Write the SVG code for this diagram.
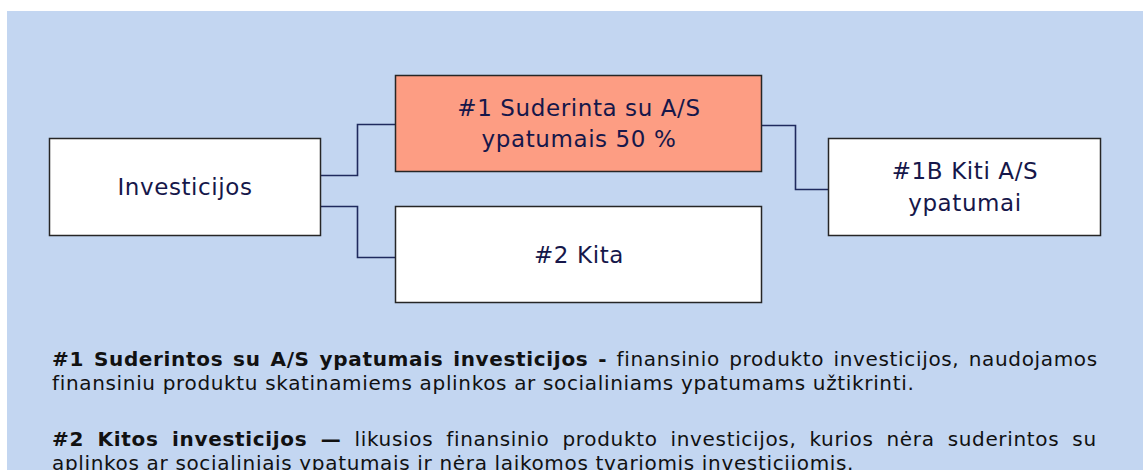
<svg xmlns="http://www.w3.org/2000/svg" width="1146" height="470" viewBox="0 0 1146 470">
<style>
.box{stroke:#262626;stroke-width:1.5}
.lbl{font-family:"DejaVu Sans",Verdana,sans-serif;font-size:23px;letter-spacing:0.6px;fill:#16174a;text-anchor:middle}
.conn{fill:none;stroke:#1f2a5e;stroke-width:1.6}
.desc{font-family:"DejaVu Sans",Verdana,sans-serif;font-size:20px;letter-spacing:0.66px;fill:#111}
.b{font-weight:bold}
</style>
<rect x="7" y="11" width="1136" height="459" fill="#c3d6f1"/>
<g id="connectors">
<path class="conn" d="M320,175.5 H357.5 V124.5 H395.5"/>
<path class="conn" d="M320,206.5 H357.5 V257.5 H395.5"/>
<path class="conn" d="M761.5,125.5 H795.5 V189.5 H828.5"/>
</g>
<g id="investicijos">
<rect class="box" x="49.5" y="138.5" width="271" height="97" fill="#ffffff"/>
<text class="lbl" x="185" y="195">Investicijos</text>
</g>
<g id="suderinta">
<rect class="box" x="395.5" y="75.5" width="366" height="96" fill="#fd9d83"/>
<text class="lbl" x="579" y="116">#1 Suderinta su A/S</text>
<text class="lbl" x="579" y="147">ypatumais 50 %</text>
</g>
<g id="kita">
<rect class="box" x="395.5" y="206.5" width="366" height="96" fill="#ffffff"/>
<text class="lbl" x="579" y="263">#2 Kita</text>
</g>
<g id="kiti-as">
<rect class="box" x="828.5" y="138.5" width="272" height="97" fill="#ffffff"/>
<text class="lbl" x="965" y="179">#1B Kiti A/S</text>
<text class="lbl" x="965" y="211">ypatumai</text>
</g>
<g id="description">
<text class="desc" x="52" y="365.5" word-spacing="2.3"><tspan class="b">#1 Suderintos su A/S ypatumais investicijos -</tspan> finansinio produkto investicijos, naudojamos</text>
<text class="desc" x="52" y="390">finansiniu produktu skatinamiems aplinkos ar socialiniams ypatumams užtikrinti.</text>
<text class="desc" x="52" y="445.5" word-spacing="6"><tspan class="b">#2 Kitos investicijos —</tspan> likusios finansinio produkto investicijos, kurios nėra suderintos su</text>
<text class="desc" x="52" y="470">aplinkos ar socialiniais ypatumais ir nėra laikomos tvariomis investicijomis.</text>
</g>
</svg>
